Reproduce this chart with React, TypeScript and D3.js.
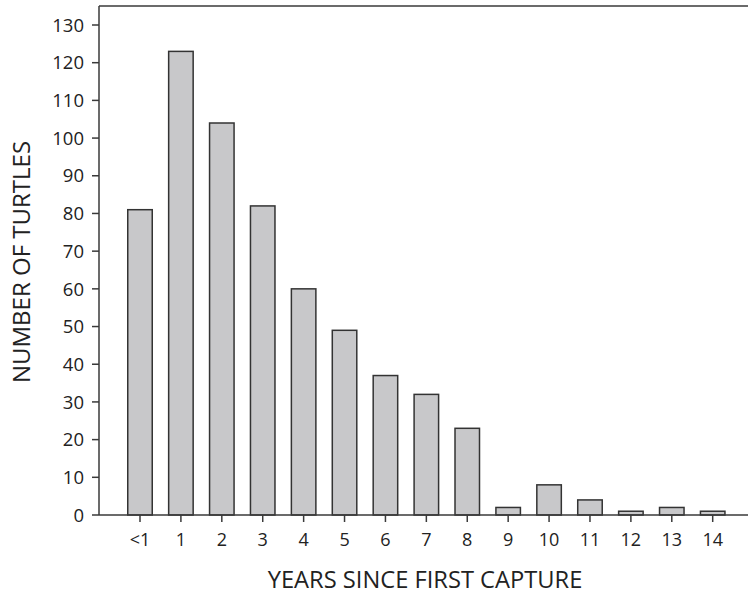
import React from "react";
import * as d3 from "d3";

const categories = ["<1", "1", "2", "3", "4", "5", "6", "7", "8", "9", "10", "11", "12", "13", "14"];
const values = [81, 123, 104, 82, 60, 49, 37, 32, 23, 2, 8, 4, 1, 2, 1];
const yTicks = [0, 10, 20, 30, 40, 50, 60, 70, 80, 90, 100, 110, 120, 130];

const W = 748;
const H = 594;
const left = 99;
const right = 748;
const top = 6;
const bottom = 515;

export default function App() {
  const x = d3.scalePoint<string>().domain(categories).range([140, 712.7]);
  const y = d3.scaleLinear().domain([0, 130]).range([bottom, 25]);
  const bw = 24.5;
  const font = "'Open Sans', 'Noto Sans', sans-serif";
  const axisColor = "#3a3a3a";
  return (
    <svg width={W} height={H} style={{ position: "absolute", left: 0, top: 0 }} fontFamily={font}>
      <rect x={0} y={0} width={W} height={H} fill="#fff" />
      {categories.map((c, i) => (
        <rect
          key={c}
          x={(x(c) as number) - bw / 2}
          y={y(values[i])}
          width={bw}
          height={bottom - y(values[i])}
          fill="#c8c8ca"
          stroke="#333"
          strokeWidth={1.5}
        />
      ))}
      <line x1={left} x2={right} y1={top} y2={top} stroke={axisColor} strokeWidth={1.5} />
      <line x1={left} x2={right} y1={bottom} y2={bottom} stroke={axisColor} strokeWidth={1.5} />
      <line x1={left} x2={left} y1={top} y2={bottom} stroke={axisColor} strokeWidth={1.5} />
      {yTicks.map((t) => (
        <g key={t}>
          <line x1={left - 7} x2={left} y1={y(t)} y2={y(t)} stroke={axisColor} strokeWidth={1.5} />
          <text x={84} y={y(t)} dy="0.36em" textAnchor="end" fontSize={18.5} fill="#222">
            {t}
          </text>
        </g>
      ))}
      {categories.map((c) => (
        <g key={c}>
          <line x1={x(c)} x2={x(c)} y1={bottom} y2={bottom + 7} stroke={axisColor} strokeWidth={1.5} />
          <text x={x(c)} y={546} textAnchor="middle" fontSize={18} fill="#222">
            {c}
          </text>
        </g>
      ))}
      <text x={425} y={588} textAnchor="middle" fontSize={23.7} fill="#222">
        YEARS SINCE FIRST CAPTURE
      </text>
      <text transform={`translate(30, 262) rotate(-90)`} textAnchor="middle" fontSize={24} fill="#222">
        NUMBER OF TURTLES
      </text>
    </svg>
  );
}
